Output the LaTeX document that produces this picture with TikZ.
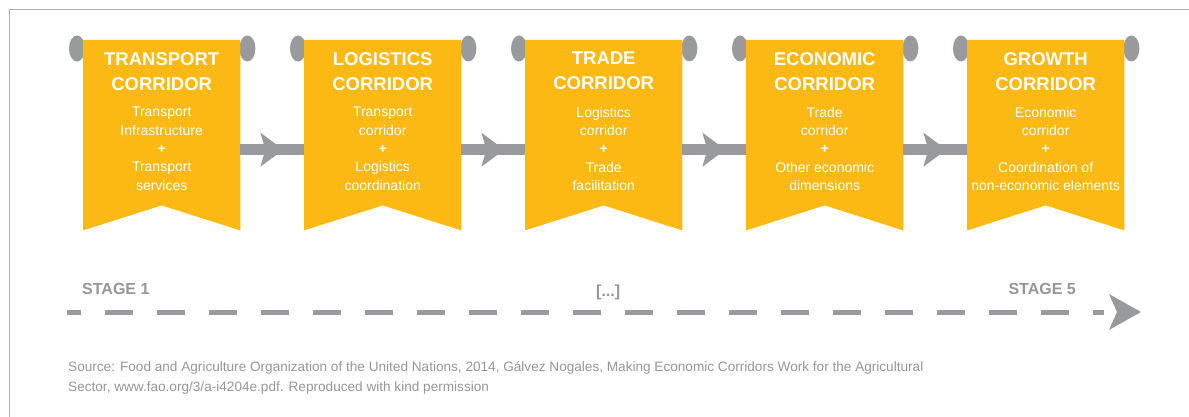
\documentclass[tikz,border=0pt]{standalone}
\usepackage{fontspec}
\setmainfont{Liberation Sans}
\usetikzlibrary{calc}
\definecolor{banneryellow}{RGB}{253,185,19}
\definecolor{knobgray}{RGB}{152,154,158}
\definecolor{textgray}{RGB}{150,151,155}
\definecolor{framegray}{RGB}{178,178,180}
\begin{document}
\begin{tikzpicture}[x=1pt,y=-1pt,
  banner/.style={rectangle, inner sep=0pt, minimum width=157pt, minimum height=190pt, anchor=north west},
  titletext/.style={text=white, font=\fontsize{18.5}{25}\selectfont\bfseries, align=center, inner sep=0pt, anchor=north},
  bodytext/.style={text=white, font=\fontsize{14}{18.3}\selectfont, align=center, inner sep=0pt, anchor=north},
  knob/.style={fill=knobgray},
  link/.style={draw=knobgray, line width=11pt},
  headfill/.style={fill=knobgray},
  dashline/.style={draw=knobgray, line width=5pt, dash pattern=on 28pt off 24pt, dash phase=14pt},
  stagetext/.style={text=textgray, font=\fontsize{16}{16}\selectfont\bfseries, inner sep=0pt},
  sourcetext/.style={text=textgray, font=\fontsize{13.6}{20}\selectfont, align=left, inner sep=0pt, anchor=north west}]
\fill[white] (0,0) rectangle (1189,417);
\useasboundingbox (0,0) rectangle (1189,417);
\draw[framegray, line width=1.6pt] (9.5,417) -- (9.5,9.5) -- (1189,9.5);

% banner frames (invisible)
\node[banner] (b1) at (83,40) {};
\node[banner] (b2) at (304,40) {};
\node[banner] (b3) at (525,40) {};
\node[banner] (b4) at (746,40) {};
\node[banner] (b5) at (967,40) {};

% knobs and banner shapes
\foreach \i in {1,...,5}{
  \fill[knob] ($(b\i.north west)+(-6,8.5)$) ellipse [x radius=8pt, y radius=13pt];
  \fill[knob] ($(b\i.north east)+(7,8.5)$) ellipse [x radius=8pt, y radius=13pt];
  \fill[banneryellow] (b\i.north west) -- (b\i.north east) -- (b\i.south east)
     -- ($(b\i.south)+(0,-25)$) -- (b\i.south west) -- cycle;
}

% connectors
\foreach \i/\j in {1/2,2/3,3/4,4/5}{
  \draw[link] ($(b\i.east)+(0,14.5)$) -- ($(b\j.west)+(0,14.5)$);
  \fill[headfill] ($(b\i.east)+(43,14.5)$) -- ++(-23,-17) -- ++(5,17) -- ++(-5,17) -- cycle;
}

% titles
\node[titletext] (t1) at ($(b1.north)+(0,12)$) {TRANSPORT\\CORRIDOR};
\node[titletext] (t2) at ($(b2.north)+(0,12)$) {LOGISTICS\\CORRIDOR};
\node[titletext] (t3) at ($(b3.north)+(0,12)$) {TRADE\\CORRIDOR};
\node[titletext] (t4) at ($(b4.north)+(0,12)$) {ECONOMIC\\CORRIDOR};
\node[titletext] (t5) at ($(b5.north)+(0,12)$) {GROWTH\\CORRIDOR};

% bodies
\node[bodytext] (d1) at ($(b1.north)+(0,67)$) {Transport\\Infrastructure\\\textbf{+}\\Transport\\services};
\node[bodytext] (d2) at ($(b2.north)+(0,67)$) {Transport\\corridor\\\textbf{+}\\Logistics\\coordination};
\node[bodytext] (d3) at ($(b3.north)+(0,67)$) {Logistics\\corridor\\\textbf{+}\\Trade\\facilitation};
\node[bodytext] (d4) at ($(b4.north)+(0,67)$) {Trade\\corridor\\\textbf{+}\\Other economic\\dimensions};
\node[bodytext] (d5) at ($(b5.north)+(0,67)$) {Economic\\corridor\\\textbf{+}\\Coordination of\\non-economic elements};

% stages
\node[stagetext, anchor=base west] (s1) at (82,294) {STAGE 1};
\node[stagetext, anchor=base west] (sm) at (596,296) {[...]};
\node[stagetext, anchor=base east] (s5) at (1076,294) {STAGE 5};

\coordinate (dstart) at (67,312);
\coordinate (dtip) at (1141,312);
\draw[dashline] (dstart) -- ($(dtip)+(-37,0)$);
\fill[fill=knobgray] (dtip) -- ++(-32,-18) -- ++(8,18) -- ++(-8,18) -- cycle;

% source
\node[sourcetext] (src) at (68,361.5) {Source: Food and Agriculture Organization of the United Nations, 2014, G\'alvez Nogales, Making Economic Corridors Work for the Agricultural\\Sector, www.fao.org/3/a-i4204e.pdf. Reproduced with kind permission};
\end{tikzpicture}
\end{document}
